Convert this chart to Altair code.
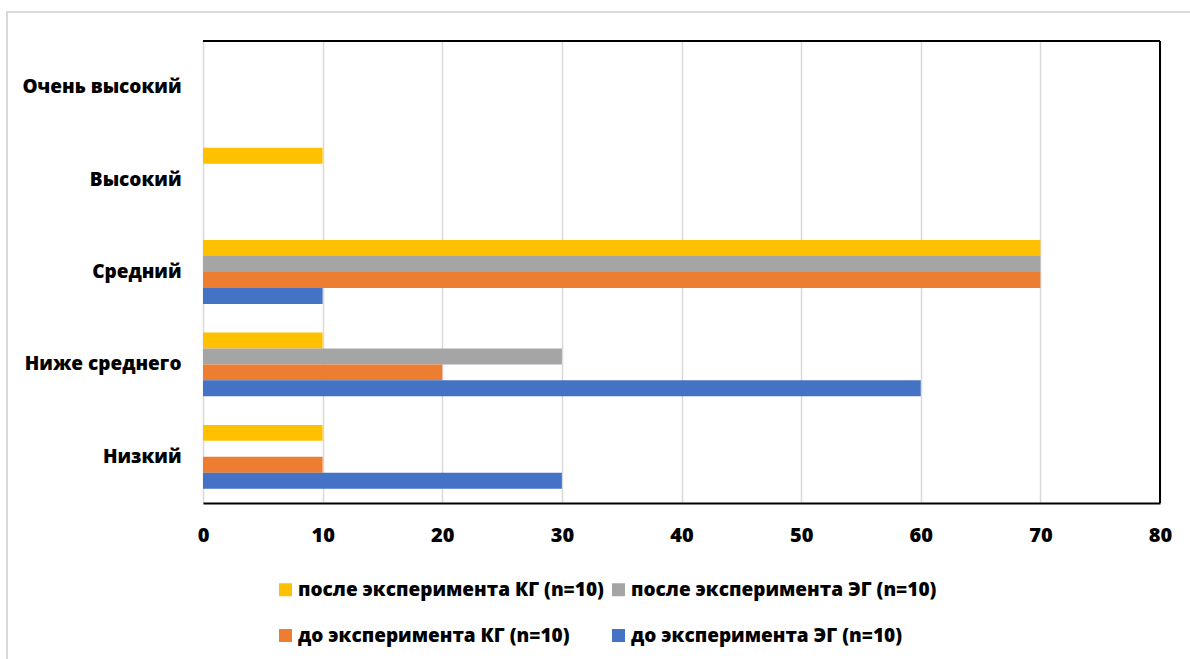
import altair as alt
import pandas as pd

# Levels, top to bottom
levels = ["Очень высокий", "Высокий", "Средний", "Ниже среднего", "Низкий"]

# Series (order of bars inside each group, top to bottom)
series = [
    "после эксперимента КГ (n=10)",
    "после эксперимента ЭГ (n=10)",
    "до эксперимента КГ (n=10)",
    "до эксперимента ЭГ (n=10)",
]
colors = ["#FFC000", "#A5A5A5", "#ED7D31", "#4472C4"]

# Legend fills column by column: first column holds the КГ entries
legend_order = [series[0], series[2], series[1], series[3]]
legend_colors = [colors[0], colors[2], colors[1], colors[3]]

# Percent of pupils per level, one list per series (same order as levels)
after_kg = [0, 10, 70, 10, 10]
after_eg = [0, 0, 70, 30, 0]
before_kg = [0, 0, 70, 20, 10]
before_eg = [0, 0, 10, 60, 30]

x_ticks = [0, 10, 20, 30, 40, 50, 60, 70, 80]

rows = []
for name, vals in zip(series, [after_kg, after_eg, before_kg, before_eg]):
    for lvl, v in zip(levels, vals):
        rows.append({"level": lvl, "group": name, "value": v})
df = pd.DataFrame(rows)

W, H = 957, 462
FONT = "Open Sans"
WEIGHT = 800

bars = alt.Chart(df).mark_bar().encode(
    x=alt.X(
        "value:Q",
        scale=alt.Scale(domain=[0, 80], nice=False),
        axis=alt.Axis(
            values=x_ticks,
            title=None,
            grid=True,
            gridColor="#d9d9d9",
            gridWidth=1.5,
            domainColor="#000000",
            domainWidth=2,
            ticks=False,
            labelFlush=False,
            labelPadding=22,
            labelFontSize=20,
            labelFontWeight=WEIGHT,
            labelFont=FONT,
            labelColor="#000000",
        ),
    ),
    y=alt.Y(
        "level:N",
        sort=levels,
        scale=alt.Scale(paddingInner=0.31, paddingOuter=0.155),
        axis=alt.Axis(
            title=None,
            domain=False,
            ticks=False,
            labelPadding=22,
            labelFontSize=19,
            labelFontWeight=WEIGHT,
            labelFont=FONT,
            labelColor="#000000",
        ),
    ),
    yOffset=alt.YOffset("group:N", sort=series, scale=alt.Scale(padding=0)),
    color=alt.Color(
        "group:N",
        scale=alt.Scale(domain=legend_order, range=legend_colors),
        legend=alt.Legend(
            title=None,
            orient="none",
            legendX=73,
            legendY=539,
            columns=2,
            symbolType="square",
            symbolSize=169,
            symbolStrokeWidth=0,
            labelOffset=3,
            columnPadding=5,
            rowPadding=26,
            labelFontSize=19,
            labelFontWeight=WEIGHT,
            labelFont=FONT,
            labelColor="#000000",
            labelLimit=400,
        ),
    ),
)

# Plot frame: top and right edges in black
top_edge = alt.Chart().mark_rule(color="#000000", strokeWidth=2).encode(
    x=alt.value(0), x2=alt.value(W), y=alt.value(0)
)
right_edge = alt.Chart().mark_rule(color="#000000", strokeWidth=2).encode(
    x=alt.value(W), y=alt.value(0), y2=alt.value(H)
)

# Light outer frame around the whole figure
outer = alt.Chart().mark_rect(fill=None, stroke="#d9d9d9", strokeWidth=2).encode(
    x=alt.value(-196), x2=alt.value(1010), y=alt.value(-29), y2=alt.value(650)
)

chart = (
    alt.layer(outer, bars, top_edge, right_edge)
    .properties(
        width=W,
        height=H,
        autosize=alt.AutoSizeParams(type="none"),
        padding={"left": 203, "top": 41, "right": 30, "bottom": 156},
        background="#ffffff",
    )
    .configure_view(stroke=None)
)

chart.save("out.html", embed_options={"renderer": "svg", "actions": False})
